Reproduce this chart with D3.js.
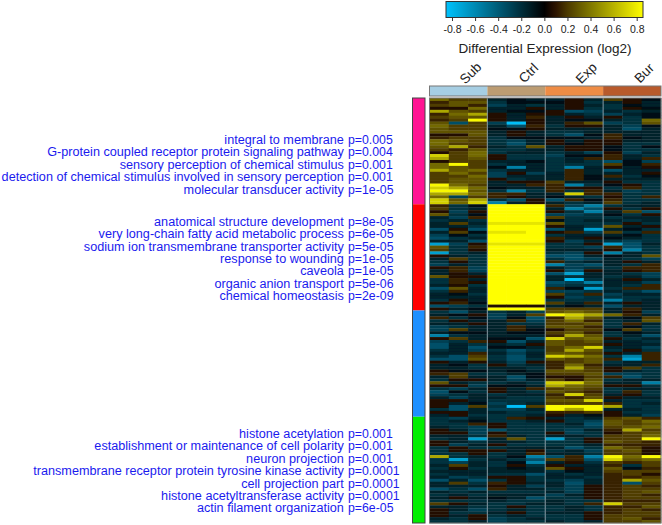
<!DOCTYPE html>
<html><head><meta charset="utf-8">
<script src="https://cdnjs.cloudflare.com/ajax/libs/d3/7.8.5/d3.min.js"></script>
<style>html,body{margin:0;padding:0;background:#fff}svg{display:block}</style>
</head><body><svg id="c" width="662" height="525"></svg>
<script>
const groups=["Sub","Ctrl","Exp","Bur"];
const groupColors=["#A6CEE3","#BC9C72","#EE8C45","#B85A2B"];
const clusterColors=["#FF1493","#FF0000","#1E90FF","#00EE00"];
const colorTicks=[-0.8,-0.6,-0.4,-0.2,0,0.2,0.4,0.6,0.8];
const termsA=["integral to membrane","G-protein coupled receptor protein signaling pathway","sensory perception of chemical stimulus","detection of chemical stimulus involved in sensory perception","molecular transducer activity"];
const pvalsA=["p=0.005","p=0.004","p=0.001","p=0.001","p=1e-05"];
const termsB=["anatomical structure development","very long-chain fatty acid metabolic process","sodium ion transmembrane transporter activity","response to wounding","caveola","organic anion transport","chemical homeostasis"];
const pvalsB=["p=8e-05","p=6e-05","p=5e-05","p=1e-05","p=1e-05","p=5e-06","p=2e-09"];
const termsD=["histone acetylation","establishment or maintenance of cell polarity","neuron projection","transmembrane receptor protein tyrosine kinase activity","cell projection part","histone acetyltransferase activity","actin filament organization"];
const pvalsD=["p=0.001","p=0.001","p=0.001","p=0.0001","p=0.0001","p=0.0001","p=6e-05"];
// heat values in units of 0.07 log2, read row by row
const valueUnit=0.07;
const rowsPink=[
[5,3,3,-2,-1,-2,-2,1,-2,3,1,-1],[2,4,4,-3,-1,-1,-1,1,-3,-2,1,-2],[3,4,2,-4,-2,-3,-2,1,-2,-3,-1,-2],
[1,1,5,-2,-2,1,-2,1,-3,-3,1,-1],[8,4,3,-2,-1,-1,1,-5,-4,-2,-3,-2],[2,5,8,1,-2,1,1,-2,-3,-4,-2,-1],
[3,4,4,1,-2,2,-2,1,-2,1,-3,-1],[2,3,12,1,-2,1,-2,-1,-1,-2,-3,5],[4,-5,3,-4,-12,1,-2,2,4,-4,-3,4],
[5,3,3,-2,-5,2,-3,1,1,-2,-4,-1],[4,3,3,-1,-1,1,-2,-2,-2,-2,-5,-2],[4,4,4,-2,1,-2,-3,-3,-2,-2,-2,-2],
[1,1,4,-2,1,-2,-3,-5,-1,2,-2,-2],[2,3,3,-3,-1,-1,-1,-1,-2,2,-1,-2],[5,4,3,-3,-4,-2,1,-2,1,1,-2,-2],
[5,3,3,-3,-5,-2,1,-1,1,1,-3,-3],[4,8,2,-2,-3,4,-2,1,1,-1,-3,-1],[3,2,4,-3,-3,-2,-2,1,1,-1,-3,-3],
[1,3,5,-3,-2,-2,-3,-2,-4,1,-4,-2],[10,3,5,1,-3,-3,-4,-1,-1,2,-2,-3],[8,3,4,1,-3,-3,-3,-2,2,2,-2,2],
[1,3,3,-2,-2,-1,-3,-2,-3,-5,-1,-4],[5,12,3,-3,-2,-2,-3,-3,-3,3,-1,2],[5,4,3,-1,-8,-2,-3,-8,-2,1,-2,1],
[8,4,5,-3,-2,-2,-3,2,-2,-5,-2,-2],[3,5,3,-4,1,-4,-2,2,-2,-2,-2,1],[3,3,5,-4,-2,-2,-2,2,-1,2,-3,-1],
[3,4,4,1,-3,-2,-2,2,-1,-2,-2,-2],[3,4,4,-2,1,1,3,-2,-2,1,-3,-3],[12,5,3,-2,-2,2,2,-8,-3,-1,1,-3],
[10,8,5,-1,-2,-2,2,1,1,-3,2,-3],[12,12,4,-3,-8,-3,2,-3,2,-2,-4,-3],[8,8,5,2,2,-2,-2,10,2,2,-3,-3],
[5,-4,3,2,1,-2,-1,-2,-3,1,-3,2],[10,4,8,-3,-5,1,-5,2,-1,2,-3,-3],[10,5,10,-8,-2,1,-2,-3,-2,3,-3,-2]];
const rowsRed=[
[2,-3,-1,13,13,13,2,-4,-8,-3,-2,-2],[3,-3,-2,13,13,13,-2,-8,-5,1,-3,1],[1,-4,1,13,13,13,1,-3,-8,-2,3,-5],
[4,-3,-1,13,13,13,-4,-4,-3,-1,-3,1],[-2,-4,2,13,13,13,3,-3,-3,-3,-2,-2],[-3,-2,-3,13,13,13,-1,-3,-2,-2,-3,-2],
[-2,3,-2,11,11,11,4,-3,-3,-3,1,-3],[-2,-2,-3,13,13,13,1,-2,-3,4,-2,1],[-5,1,-5,13,13,13,-5,-2,-10,-2,-1,-3],
[-2,3,-1,11,11,13,1,2,-4,3,-3,2],[-4,-1,-3,13,13,13,-3,-2,-2,-2,-1,-3],[-5,-3,-2,13,13,13,2,-2,1,-1,-2,-3],
[-2,-2,-5,13,13,13,1,-4,-2,-3,-4,-3],[-10,-4,1,11,11,11,-3,-3,1,-10,-5,-2],[4,-3,2,13,13,13,-3,-3,-4,2,-5,-3],
[3,-3,1,13,13,13,-2,-2,-2,1,-8,-3],[-10,-3,-2,13,13,13,-3,-4,1,-8,-2,-3],[1,-2,-3,13,13,13,-5,-5,-2,-1,-2,4],
[-2,3,-3,13,13,13,-3,-5,-4,-2,-3,-4],[-3,1,-3,13,13,13,2,-3,-2,-2,1,-2],[-4,-2,-3,13,13,13,-8,-4,-5,-2,-3,2],
[1,2,-4,13,13,13,-2,-4,-3,-3,2,2],[-2,2,-4,13,13,13,1,-5,1,-2,1,2],[-2,1,-2,13,13,13,-5,-10,-2,-2,-3,-4],
[4,1,1,13,13,13,-2,-3,-2,-3,-2,-4],[-3,2,-2,13,13,13,-2,-12,-3,-2,1,-2],[-3,2,1,13,13,13,-5,-4,-8,-2,-2,-4],
[-2,1,-3,13,13,13,-4,-3,-3,-2,-3,2],[-5,4,-2,13,13,13,2,-1,-10,-3,2,2],[-3,2,-2,13,13,13,-4,-4,-3,-2,-3,-5],
[-2,-1,-3,13,13,13,3,-3,2,-4,-2,-2],[-2,-2,-2,13,13,13,1,-4,-3,-3,-3,-3],[-3,1,-2,13,13,13,-3,-3,-3,-8,-3,-2],
[1,2,-1,13,13,13,3,-2,2,-2,1,-2],[-5,-4,-3,1,1,1,-2,-1,-2,-5,-2,-2],[1,-2,-1,13,13,13,3,3,3,-2,2,-2]];
const rowsBlue=[
[-3,-5,-2,-3,-2,-4,4,5,4,-2,1,-4],[-2,-1,1,-4,-2,3,12,10,8,5,2,-2],[2,-3,-1,-4,-1,-5,2,8,4,-2,-1,3],
[-3,1,-2,-2,2,-4,3,5,2,-3,-2,4],[-2,-2,1,-2,-3,-3,3,3,4,-3,2,-2],[-4,-3,-2,-2,2,-2,4,4,2,-3,-1,-3],
[-4,3,-2,-2,2,-1,1,3,3,-1,3,-3],[-2,-1,-1,-2,-1,-1,3,4,2,-3,-1,-2],[-8,-3,-2,-2,-2,-2,2,8,4,-3,-2,-5],
[1,3,-2,-1,-1,-5,10,4,5,1,-3,-2],[-4,-3,2,1,-5,-2,4,3,4,-2,-2,-3],[-5,-2,-3,-2,-3,1,4,3,3,1,-2,-2],
[-5,-2,-5,-1,-1,-2,3,5,10,-2,-2,-4],[-3,-2,-4,-3,-5,-3,3,8,4,-3,1,-3],[-2,-2,2,-2,-4,-2,4,4,3,1,-2,2],
[-3,-5,3,-3,-5,-2,10,8,5,-3,-8,2],[-5,-5,4,-3,-5,-3,4,3,4,2,-10,2],[1,-2,1,-2,-4,1,2,3,4,-3,-2,-2],
[-2,-1,-3,1,-3,-2,2,5,2,-2,-2,2],[-2,-2,-3,-2,-2,-3,2,8,3,1,3,-3],[1,-1,-1,-2,-1,-2,4,4,3,1,-2,-3],
[2,3,-3,-3,-2,-1,3,3,4,-4,-4,-3],[-2,3,-2,-2,-5,-1,1,1,3,2,-5,-3],[-3,1,1,-2,-4,-2,3,1,4,-3,-2,-2],
[4,-2,-3,-3,-2,-3,10,10,5,-2,-2,-8],[1,1,-4,-1,-1,-2,8,5,4,1,1,-3],[-3,-4,-2,1,-2,2,3,4,3,-3,-2,-2],
[-5,-1,-3,1,-2,-3,4,3,2,-3,2,-3],[-4,-3,-2,-3,-2,-2,2,10,3,-2,1,-3],[-2,-4,-2,-2,-3,-3,3,2,4,1,-2,-2],
[1,1,-2,-3,-3,-3,4,4,10,-2,-3,-3],[1,-2,-1,-4,-3,-2,3,3,3,2,-3,-2],[1,-5,3,-3,-12,3,12,12,12,8,-3,-3],
[-3,-5,-2,-4,-4,-2,12,8,12,-2,-2,-3],[1,1,-2,-2,-3,-3,2,2,3,1,-3,-3],[-2,1,-3,-3,-3,-2,1,-2,-1,1,-2,-4]];
const rowsGreen=[
[-3,-4,-2,-3,2,1,-2,-3,-2,3,4,2],[-3,-2,-1,-3,-3,-2,1,-3,-4,4,3,5],[-3,-3,2,1,-3,-3,-3,-2,-5,4,3,4],
[-2,-3,-4,1,-3,-3,-3,-3,-4,3,4,5],[1,-2,-4,-5,-3,-3,-3,-4,-2,2,8,3],[1,1,-4,1,-3,-3,1,-4,-3,1,3,4],
[-2,-2,-3,2,-2,-3,-2,-2,-3,3,3,5],[-3,-2,-10,-2,4,-3,-10,-3,1,3,3,12],[1,-2,-3,-2,-2,-3,-3,-3,1,4,3,2],
[1,-4,-2,1,-3,-3,-3,-3,-2,2,2,2],[-3,1,-3,-3,-2,-2,-2,-5,-3,5,3,1],[-3,1,1,1,-2,1,-3,-2,-4,3,4,1],
[-3,-3,1,-3,-2,2,-2,-2,-3,3,3,1],[8,-3,-2,-3,-1,-8,-5,2,-8,12,5,12],[-3,-10,-3,-2,-3,-5,3,2,-5,10,4,5],
[-3,-4,-2,-3,-1,-8,-2,1,-3,3,2,3],[-2,3,-2,-3,1,-3,1,-2,-2,2,-3,3],[-3,1,-3,-2,-1,-2,4,1,-2,4,-1,2],
[-2,-2,-2,-2,-2,-2,-3,-1,-2,3,3,3],[-3,-2,-2,-3,-3,-5,-2,-3,-2,2,3,1],[-2,-4,-3,1,1,-3,-2,-2,-3,2,2,3],
[-5,-2,-5,-3,1,-3,-3,-4,-2,2,8,4],[-2,3,-3,2,1,-2,-2,-5,-2,2,-5,3],[-2,-2,-2,1,-2,-4,-2,-4,1,2,3,2],
[-5,-3,-5,2,-2,-2,-3,-4,1,2,3,3],[-2,-3,-2,-3,-3,-3,-2,-4,1,2,3,4],[-3,-2,-3,-2,-2,-2,-4,-2,1,2,3,2],
[-2,1,-2,-1,-2,-5,-3,-3,1,2,3,3],[-3,-3,-3,-2,-3,-3,-2,-3,-3,2,2,2],[3,1,-2,-3,-3,-2,-2,-3,2,10,3,3],
[-2,-2,-3,-3,1,-3,-3,-2,-3,2,2,4],[1,-2,-4,-3,-2,-3,-3,-2,-3,2,3,2],[1,-3,-3,-2,1,-3,-2,-2,1,2,3,3],
[1,-2,1,-3,-2,-3,-3,-3,1,3,3,3],[-2,-3,1,-4,-3,-2,-3,-3,1,3,4,2],[-3,-3,-2,-4,-3,-3,-2,-3,-2,3,3,4]];

const clusters=[rowsPink,rowsRed,rowsBlue,rowsGreen];
const allRows=clusters.flat();
const svg=d3.select("#c");
const color=d3.scaleLinear().domain([-0.86,0,0.05,0.1,0.2,0.4,0.86])
  .range(["#00C4FF","#000000","#1a0800","#2c1400","#4c3a00","#807800","#FFFF00"]).clamp(true);
const font="'Liberation Sans',Arial,sans-serif";

// colour key
const keyX=d3.scaleLinear().domain([-0.8,0.8]).range([452,636.7]);
const barL=446,barR=643;
const defs=svg.append("defs");
const grad=defs.append("linearGradient").attr("id","kg");
d3.range(0,1.001,0.02).forEach(t=>grad.append("stop").attr("offset",t).attr("stop-color",color(keyX.invert(barL+(barR-barL)*t))));
defs.append("filter").attr("id","soft").attr("x",0).attr("y",0).attr("width",1).attr("height",1)
  .append("feGaussianBlur").attr("stdDeviation","0.4 0.55");
svg.append("rect").attr("x",barL).attr("y",1.5).attr("width",barR-barL).attr("height",16)
  .attr("fill","url(#kg)").attr("stroke","#333").attr("stroke-width",1);
const keyAxis=svg.append("g").attr("transform","translate(0,17.5)").call(d3.axisBottom(keyX).tickValues(colorTicks).tickSize(3.5).tickFormat(d=>d3.format(".1f")(Math.abs(d)<1e-9?0:d).replace("−","-")));
keyAxis.select(".domain").remove();
keyAxis.selectAll("line").attr("stroke","#333");
keyAxis.selectAll("text").attr("font-family",font).attr("font-size",10.5).attr("fill","#222").attr("y",8).attr("dy","0.71em");
svg.append("text").attr("x",545).attr("y",52.5).attr("text-anchor","middle").attr("font-family",font).attr("font-size",13.5).attr("fill","#222").text("Differential Expression (log2)");

// heatmap
const nCols=allRows[0].length;
const x=d3.scaleBand().domain(d3.range(nCols)).range([429.5,661]);
const y=d3.scaleBand().domain(d3.range(allRows.length)).range([98,523]);
const gx=d3.scaleBand().domain(groups).range([429.5,661]);

groups.forEach(g=>svg.append("text").attr("transform",`translate(${gx(g)+gx.bandwidth()/2+12},73) rotate(-45)`)
  .attr("text-anchor","middle").attr("dy","0.35em").attr("font-family",font).attr("font-size",13.5).attr("fill","#222").text(g));
svg.append("g").selectAll("rect").data(groups).join("rect").attr("x",d=>gx(d)).attr("y",86).attr("width",gx.bandwidth()).attr("height",10).attr("fill",(d,i)=>groupColors[i]);
svg.append("rect").attr("x",429.5).attr("y",86).attr("width",231.5).attr("height",10).attr("fill","none").attr("stroke","#777").attr("stroke-width",1);

const heat=svg.append("g").attr("filter","url(#soft)");
allRows.forEach((r,i)=>{
  heat.selectAll(null).data(r).join("rect").attr("x",(d,j)=>x(j)).attr("y",y(i)).attr("width",x.bandwidth()+0.3).attr("height",y.bandwidth()+0.3).attr("fill",d=>color(d*valueUnit));
});
svg.append("g").selectAll("line").data([3,6,9]).join("line").attr("x1",d=>x(d)).attr("x2",d=>x(d)).attr("y1",98).attr("y2",523).attr("stroke","#8fa3ad").attr("stroke-width",1.2).attr("opacity",0.75);
svg.append("rect").attr("x",429.5).attr("y",98).attr("width",231.5).attr("height",425).attr("fill","none").attr("stroke","#777").attr("stroke-width",1);

// cluster side bar
let acc=0;
const sizes=clusters.map(c=>{const s=acc;acc+=c.length;return [s,acc];});
svg.append("g").selectAll("rect").data(sizes).join("rect").attr("x",412.5).attr("width",12.5)
  .attr("y",d=>y(d[0])).attr("height",d=>y(d[1]-1)+y.bandwidth()-y(d[0])).attr("fill",(d,i)=>clusterColors[i]);
svg.append("rect").attr("x",412.5).attr("y",98).attr("width",12.5).attr("height",425).attr("fill","none").attr("stroke","#444").attr("stroke-width",1);

// enrichment labels
function labels(terms,pvals,y0){
  const ly=d3.scaleLinear().domain([0,1]).range([y0,y0+12.4]);
  terms.forEach((t,i)=>{
    svg.append("text").attr("x",343.8).attr("y",ly(i)).attr("text-anchor","end").attr("font-family",font).attr("font-size",12.65).attr("fill","#1a1aee").text(t);
    svg.append("text").attr("x",348).attr("y",ly(i)).attr("text-anchor","start").attr("font-family",font).attr("font-size",12.3).attr("fill","#1a1aee").text(pvals[i]);
  });
}
labels(termsA,pvalsA,144);
labels(termsB,pvalsB,225.7);
labels(termsD,pvalsD,438);
</script></body></html>
